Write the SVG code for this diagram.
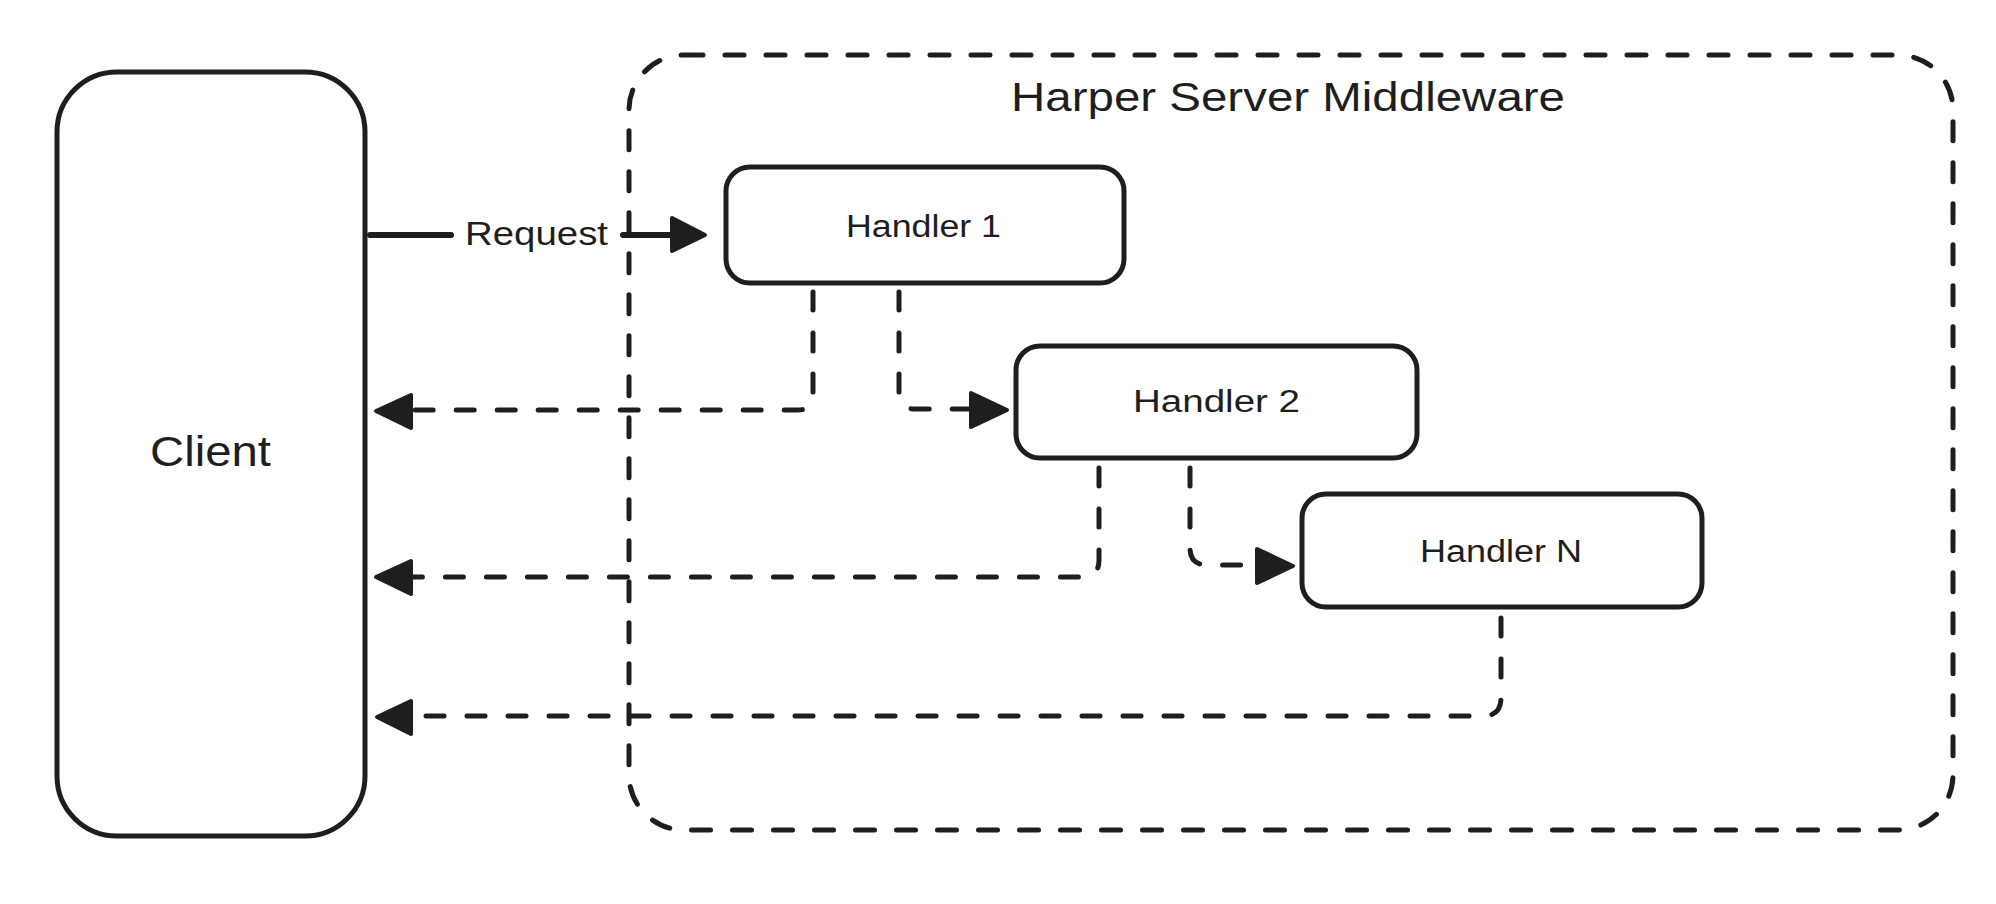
<svg xmlns="http://www.w3.org/2000/svg" width="1996" height="904" viewBox="0 0 1996 904">
  <style>
    .box { fill: #ffffff; stroke: #1e1e1e; stroke-width: 5; }
    .group { fill: none; stroke: #1e1e1e; stroke-width: 5; stroke-dasharray: 19 22; stroke-linecap: round; }
    .lbl { font-family: "Liberation Sans", "DejaVu Sans", sans-serif; fill: #1e1e1e; }
    .solid { fill: none; stroke: #1e1e1e; stroke-width: 6; stroke-linecap: round; }
    .dash { fill: none; stroke: #1e1e1e; stroke-width: 5; stroke-linecap: round; stroke-linejoin: round; stroke-dasharray: 18 23; }
    .head { fill: #1e1e1e; stroke: #1e1e1e; stroke-width: 4; stroke-linejoin: round; }
  </style>
  <rect width="1996" height="904" fill="#ffffff"/>

  <g id="middleware">
    <rect class="group" x="629" y="55" width="1324" height="775" rx="55"/>
    <text class="lbl" x="1011" y="111" font-size="40" textLength="554" lengthAdjust="spacingAndGlyphs">Harper Server Middleware</text>
  </g>

  <g id="client">
    <rect class="box" x="57" y="72" width="308" height="764" rx="60"/>
    <text class="lbl" x="150" y="466" font-size="42" textLength="121" lengthAdjust="spacingAndGlyphs">Client</text>
  </g>

  <g id="handler1">
    <rect class="box" x="726" y="167" width="398" height="116" rx="24"/>
    <text class="lbl" x="846" y="237" font-size="31" textLength="155" lengthAdjust="spacingAndGlyphs">Handler 1</text>
  </g>

  <g id="handler2">
    <rect class="box" x="1016" y="346" width="401" height="112" rx="24"/>
    <text class="lbl" x="1133" y="412" font-size="31" textLength="167" lengthAdjust="spacingAndGlyphs">Handler 2</text>
  </g>

  <g id="handlerN">
    <rect class="box" x="1302" y="494" width="400" height="113" rx="24"/>
    <text class="lbl" x="1420" y="562" font-size="31" textLength="162" lengthAdjust="spacingAndGlyphs">Handler N</text>
  </g>

  <g id="connectors">
    <!-- Request -->
    <line class="solid" x1="370" y1="235" x2="451" y2="235"/>
    <text class="lbl" x="465" y="245" font-size="33" textLength="143" lengthAdjust="spacingAndGlyphs">Request</text>
    <line class="solid" x1="623" y1="235" x2="672" y2="235"/>
    <polygon class="head" points="672,218 705,235 672,251"/>

    <!-- Handler 1 response -->
    <path class="dash" d="M813,292 L813,395 Q813,410 798,410 L412,410"/>
    <polygon class="head" points="376,411 411,395 411,428"/>

    <!-- Handler 1 to Handler 2 -->
    <path class="dash" d="M899,292 L899,393 Q899,409 915,409 L971,409"/>
    <polygon class="head" points="971,393 1007,410 971,427"/>

    <!-- Handler 2 response -->
    <path class="dash" d="M1099,468 L1099,560 Q1099,577 1082,577 L412,577"/>
    <polygon class="head" points="376,577 411,561 411,594"/>

    <!-- Handler 2 to Handler N -->
    <path class="dash" d="M1190,468 L1190,548 Q1190,565 1207,565 L1257,565"/>
    <polygon class="head" points="1257,549 1293,566 1257,583"/>

    <!-- Handler N response -->
    <path class="dash" d="M1501,618 L1501,698 Q1501,716 1483,716 L412,716"/>
    <polygon class="head" points="377,717 411,701 411,734"/>
  </g>
</svg>
